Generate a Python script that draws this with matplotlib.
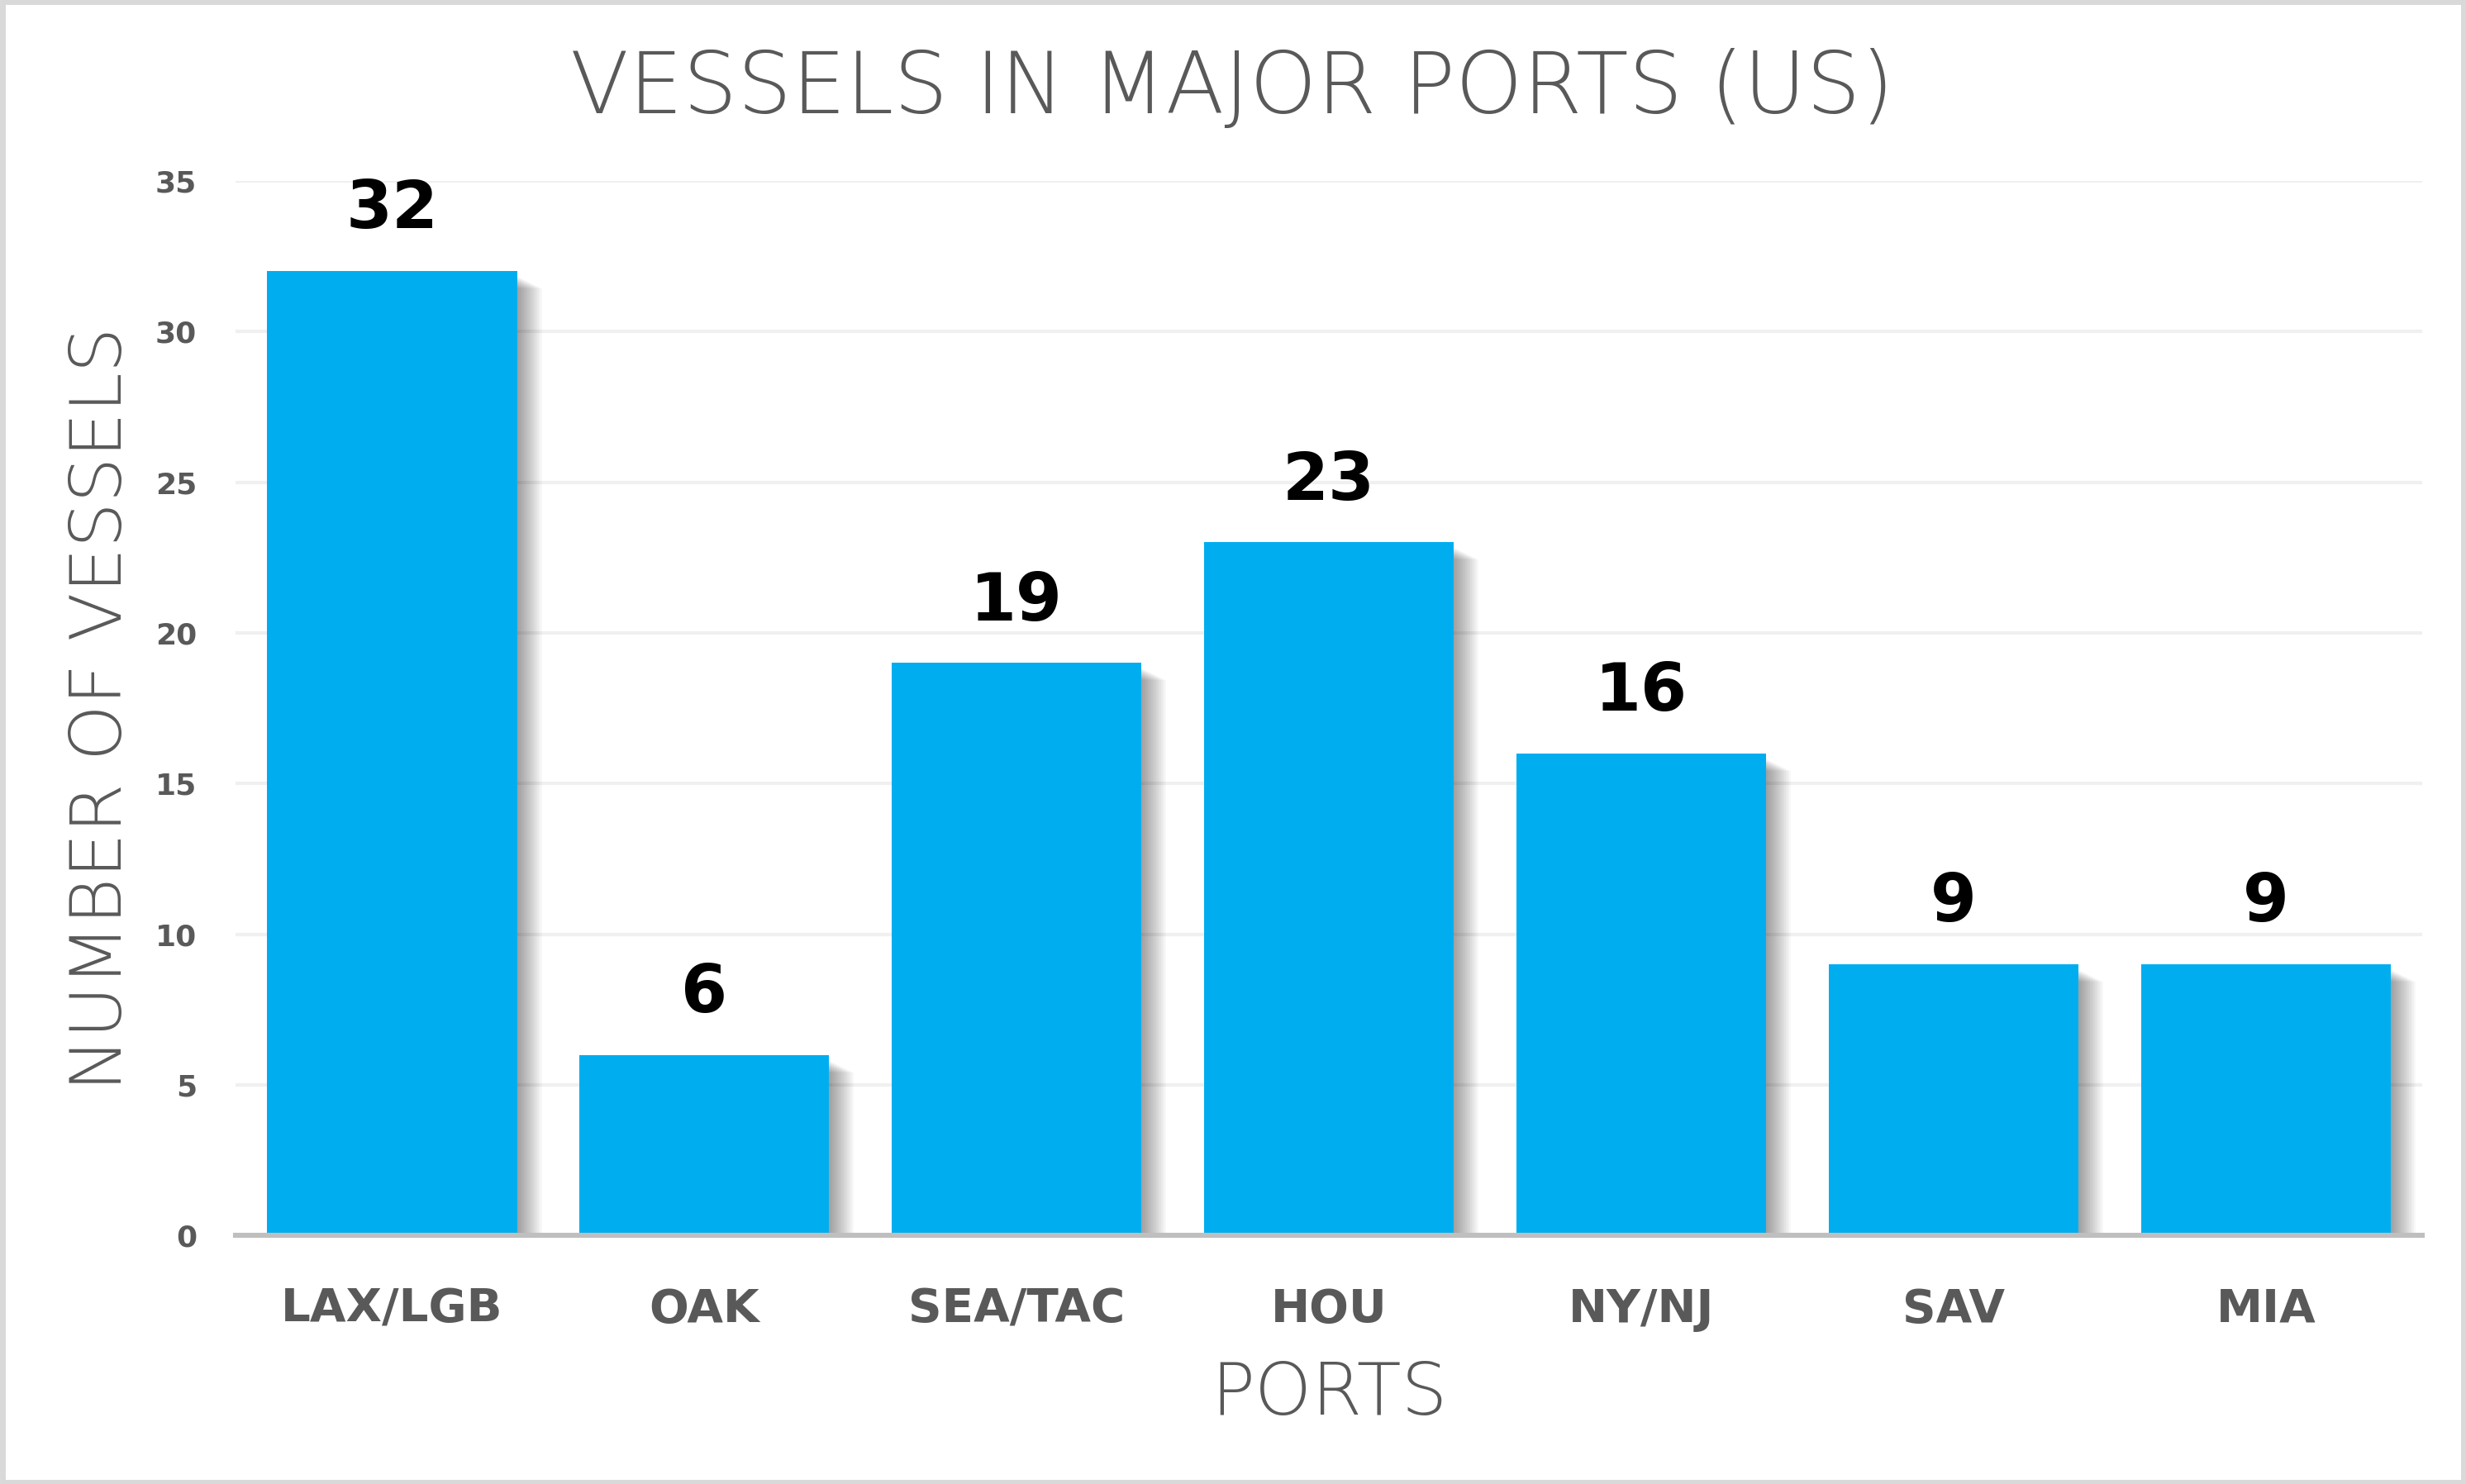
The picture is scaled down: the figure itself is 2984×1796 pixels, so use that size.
import matplotlib
matplotlib.use("Agg")
import matplotlib.pyplot as plt
import matplotlib.transforms as mtransforms
from matplotlib.patches import Rectangle

# ---- data ----
ports = ["LAX/LGB", "OAK", "SEA/TAC", "HOU", "NY/NJ", "SAV", "MIA"]
vessels = [32, 6, 19, 23, 16, 9, 9]
yticks = [0, 5, 10, 15, 20, 25, 30, 35]

title = "VESSELS IN MAJOR PORTS (US)"
xlabel = "PORTS"
ylabel = "NUMBER OF VESSELS"

BAR = "#00AEEF"
TXT = "#595959"
DPI = 200
W, H = 2984, 1796
LIGHT = "DejaVu Sans"
HEAVY = "DejaVu Sans"

fig = plt.figure(figsize=(W / DPI, H / DPI), dpi=DPI)
fig.patch.set_facecolor("white")
ax = fig.add_axes([150 / 1568, 1 - 786 / 944, (1540 - 150) / 1568, (786 - 115) / 944])

x = list(range(len(ports)))

# soft drop shadow (layered offset copies of the same bars)
for off in range(2, 32, 2):
    tr = mtransforms.offset_copy(ax.transData, fig=fig, x=off, y=-off * 0.5 - 6, units="dots")
    ax.bar(x, vessels, width=0.8, color="black", alpha=0.026, transform=tr, zorder=2, linewidth=0)

ax.bar(x, vessels, width=0.8, color=BAR, zorder=3, linewidth=0)

ax.set_xlim(-0.5, len(ports) - 0.5)
ax.set_ylim(0, 35)
ax.set_yticks(yticks)
ax.yaxis.grid(True, color="#f0f0f0", linewidth=1.5, zorder=0)
ax.set_axisbelow(True)
for s in ["top", "right", "left"]:
    ax.spines[s].set_visible(False)
ax.spines["bottom"].set_color("#bfbfbf")
ax.spines["bottom"].set_linewidth(2.2)
ax.spines["bottom"].set_zorder(5)
ax.tick_params(axis="both", length=0)
ax.tick_params(axis="y", pad=17)
ax.tick_params(axis="x", pad=22.5)
ax.set_xticks(x)
ax.set_xticklabels(ports, fontsize=20.3, fontweight="bold", color=TXT, family=HEAVY)
for lab in ax.get_yticklabels():
    lab.set_fontsize(13)
    lab.set_fontweight("bold")
    lab.set_color(TXT)
    lab.set_family(HEAVY)

for xi, v in zip(x, vessels):
    ax.annotate(str(v), (xi, v), xytext=(0, 12.5), textcoords="offset points",
                ha="center", va="bottom", fontsize=29, fontweight="bold",
                color="black", family=HEAVY, zorder=6)

fig.text(0.4997, 1 - 57 / 944, title, ha="center", va="center", fontsize=37.3,
         fontweight="light", color=TXT, family=LIGHT)
fig.text((150 + 1540) / 2 / 1568, 1 - 887 / 944, xlabel, ha="center", va="center",
         fontsize=31.7, fontweight="light", color=TXT, family=LIGHT)
fig.text(65 / 1568, 1 - 451 / 944, ylabel, ha="center", va="center", rotation=90,
         fontsize=31, fontweight="light", color=TXT, family=LIGHT)

# figure border
fig.patches.append(Rectangle((0.001, 0.001), 0.998, 0.998, transform=fig.transFigure,
                             fill=False, edgecolor="#d9d9d9", linewidth=2.5))

fig.savefig("out.png", dpi=DPI, facecolor="white")
